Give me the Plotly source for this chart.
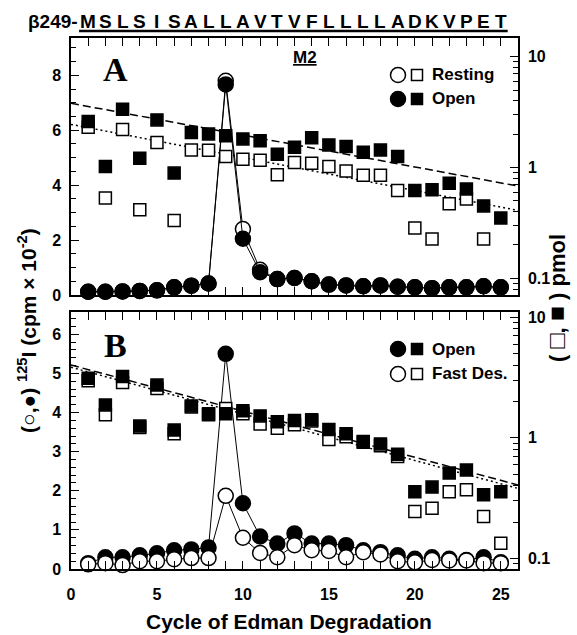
import plotly.graph_objects as go

# ---------------- data ----------------
cycles = list(range(1, 26))
sequence = list("MSLSISALLAVTVFLLLLADKVPET")
seq_prefix = "β249-"

# Panel A  (left axis: 125I cpm x 10^-2 ; right axis: pmol, log)
a_circ_resting = [0.12, 0.12, 0.13, 0.15, 0.17, 0.28, 0.34, 0.42, 7.8, 2.4, 0.92, 0.58, 0.62,
                  0.5, 0.38, 0.35, 0.32, 0.35, 0.3, 0.28, 0.25, 0.28, 0.28, 0.32, 0.28]
a_circ_open = [0.12, 0.12, 0.13, 0.15, 0.17, 0.28, 0.34, 0.42, 7.67, 2.05, 0.83, 0.58, 0.62,
               0.5, 0.38, 0.35, 0.32, 0.35, 0.3, 0.28, 0.25, 0.28, 0.28, 0.32, 0.28]
a_sq_resting = [2.31, 0.53, 2.2, 0.416, 1.68, 0.333, 1.44, 1.43, 1.26, 1.19, 1.16, 0.86, 1.11,
                1.09, 1.02, 0.93, 0.85, 0.85, 0.62, 0.284, 0.226, 0.47, 0.52, 0.226, None]
a_sq_open = [2.6, 1.02, 3.36, 1.21, 2.69, 0.89, 2.07, 2.01, 1.93, 1.81, 1.74, 1.32, 1.52,
             1.86, 1.6, 1.55, 1.37, 1.44, 1.26, 0.62, 0.63, 0.72, 0.64, 0.45, 0.35]
fit_x = [0, 26]
a_fit_open = [3.8, 0.68]
a_fit_resting = [2.45, 0.41]

# Panel B
b_circ_open = [0.15, 0.3, 0.3, 0.35, 0.4, 0.48, 0.5, 0.55, 5.5, 1.68, 0.83, 0.65, 0.91,
               0.65, 0.65, 0.61, 0.48, 0.43, 0.35, 0.26, 0.3, 0.26, 0.23, 0.3, 0.17]
b_circ_fastdes = [0.12, 0.15, 0.1, 0.2, 0.2, 0.25, 0.28, 0.28, 1.87, 0.8, 0.41, 0.30, 0.61,
                  0.48, 0.46, 0.30, 0.43, 0.37, 0.2, 0.17, 0.23, 0.22, 0.22, 0.15, 0.15]
b_sq_open = [3.12, 1.87, 3.22, 1.25, 2.74, 1.16, 1.84, 1.58, 1.58, 1.68, 1.52, 1.36, 1.39,
             1.41, 1.17, 1.08, 0.93, 0.89, 0.73, 0.357, 0.39, 0.51, 0.54, 0.336, 0.357]
b_sq_fastdes = [2.97, 1.55, 2.87, 1.22, 2.57, 1.08, 1.8, 1.55, 1.75, 1.58, 1.30, 1.2, 1.28,
                1.38, 0.97, 1.02, 0.92, 0.86, 0.70, 0.244, 0.26, 0.357, 0.37, 0.222, 0.133]
b_fit_open = [4.02, 0.406]
b_fit_fastdes = [3.85, 0.38]

x_ticks = [0, 5, 10, 15, 20, 25]
log_ticks = [0.1, 1, 10]
log_tick_text = ["0.1", "1", "10"]

# ---------------- styling ----------------
FONT = "Liberation Sans, Arial, sans-serif"
SERIF = "Liberation Serif, Times New Roman, serif"
W, H = 577, 635
ML, MR, MT, MB = 71, 59, 38, 66
PW, PH = W - ML - MR, H - MT - MB
CS, SS = 15, 12  # circle and square sizes


def py(pix):
    return (H - MB - pix) / PH


def px(pix):
    return (pix - ML) / PW


fig = go.Figure()


def circ(x, y, filled, xa, ya):
    fig.add_trace(go.Scatter(
        x=x, y=y, xaxis=xa, yaxis=ya, mode="lines+markers",
        line=dict(color="black", width=1),
        marker=dict(symbol="circle", size=CS,
                    color="black" if filled else "white",
                    line=dict(color="black", width=1.5)),
        showlegend=False, cliponaxis=False, hoverinfo="skip"))


def sq(x, y, filled, xa, ya):
    fig.add_trace(go.Scatter(
        x=x, y=y, xaxis=xa, yaxis=ya, mode="markers",
        marker=dict(symbol="square", size=SS,
                    color="black" if filled else "white",
                    line=dict(color="black", width=1.5)),
        showlegend=False, cliponaxis=False, hoverinfo="skip"))


def fit(y, dash, xa, ya):
    fig.add_trace(go.Scatter(
        x=fit_x, y=y, xaxis=xa, yaxis=ya, mode="lines",
        line=dict(color="black", width=1.5, dash=dash),
        showlegend=False, hoverinfo="skip"))


# Panel A
circ(cycles, a_circ_resting, False, "x", "y")
circ(cycles, a_circ_open, True, "x", "y")
fit(a_fit_open, "8px,4px", "x", "y2")
fit(a_fit_resting, "2px,3px", "x", "y2")
sq(cycles, a_sq_resting, False, "x", "y2")
sq(cycles, a_sq_open, True, "x", "y2")

# Panel B
circ(cycles, b_circ_open, True, "x2", "y3")
circ(cycles, b_circ_fastdes, False, "x2", "y3")
fit(b_fit_open, "8px,4px", "x2", "y4")
fit(b_fit_fastdes, "2px,3px", "x2", "y4")
sq(cycles, b_sq_fastdes, False, "x2", "y4")
sq(cycles, b_sq_open, True, "x2", "y4")

tickfont = dict(family=FONT, size=16, color="black", weight="bold")
minor_log = [0.08, 0.09, 0.2, 0.3, 0.4, 0.5, 0.6, 0.7, 0.8, 0.9, 2, 3, 4, 5, 6, 7, 8, 9]

dom_a = [py(295), 1]
dom_b = [0, py(312)]

xcommon = dict(range=[0, 26], ticks="inside", ticklen=8, tickwidth=1.2, tickcolor="black",
               tickmode="array", tickvals=x_ticks, showline=True, linecolor="black",
               linewidth=1.5, mirror="allticks", showgrid=False, zeroline=False,
               minor=dict(dtick=1, tick0=0, ticks="inside", ticklen=5, tickwidth=1,
                          tickcolor="black", showgrid=False),
               tickfont=tickfont, domain=[0, 1], ticklabelstandoff=10)

ycommon = dict(ticks="inside", ticklen=8, tickwidth=1.2, tickcolor="black", showline=True,
               linecolor="black", linewidth=1.5, showgrid=False, zeroline=False,
               tickfont=tickfont, ticklabelstandoff=5)

fig.update_layout(
    width=W, height=H, margin=dict(l=ML, r=MR, t=MT, b=MB),
    paper_bgcolor="white", plot_bgcolor="white", hovermode=False,
    xaxis=dict(**xcommon, anchor="y", showticklabels=False),
    xaxis2=dict(**xcommon, anchor="y3", showticklabels=True),
    yaxis=dict(**ycommon, domain=dom_a, anchor="x", range=[0, 9.36], tickmode="array",
               tickvals=[0, 2, 4, 6, 8],
               minor=dict(dtick=0.5, tick0=0, ticks="inside", ticklen=5, tickwidth=1,
                          tickcolor="black", showgrid=False)),
    yaxis2=dict(**ycommon, overlaying="y", side="right", anchor="x", type="log",
                range=[-1.151, 1.169], tickmode="array", tickvals=log_ticks,
                ticktext=log_tick_text,
                minor=dict(tickmode="array", tickvals=minor_log, ticks="inside", ticklen=5,
                           tickwidth=1, tickcolor="black", showgrid=False)),
    yaxis3=dict(**ycommon, domain=dom_b, anchor="x2", range=[0, 6.57], tickmode="array",
                tickvals=[0, 1, 2, 3, 4, 5, 6],
                minor=dict(dtick=0.2, tick0=0, ticks="inside", ticklen=5, tickwidth=1,
                           tickcolor="black", showgrid=False)),
    yaxis4=dict(**ycommon, overlaying="y3", side="right", anchor="x2", type="log",
                range=[-1.089, 1.044], tickmode="array", tickvals=log_ticks,
                ticktext=log_tick_text,
                minor=dict(tickmode="array", tickvals=minor_log, ticks="inside", ticklen=5,
                           tickwidth=1, tickcolor="black", showgrid=False)),
)

ann = []
shapes = []

# sequence header
seq_y = py(21)
seq_font = dict(family=FONT, size=19, color="black", weight="bold")
ann.append(dict(x=0.55, y=seq_y, xref="x", yref="paper", text=seq_prefix, showarrow=False,
                xanchor="right", yanchor="middle", font=seq_font))
for i, aa in enumerate(sequence):
    ann.append(dict(x=cycles[i], y=seq_y, xref="x", yref="paper", text=aa, showarrow=False,
                    xanchor="center", yanchor="middle", font=seq_font))
shapes.append(dict(type="line", xref="x", yref="paper", x0=0.47, x1=25.4,
                   y0=py(31), y1=py(31), line=dict(color="black", width=2.5)))

# M2 label
ann.append(dict(x=13.6, y=py(57), xref="x", yref="paper", text="<u>M2</u>", showarrow=False,
                xanchor="center", yanchor="middle",
                font=dict(family=FONT, size=17, color="black", weight="bold")))
# panel letters
for letter, ypix in (("A", 70), ("B", 345)):
    ann.append(dict(x=2.56, y=py(ypix), xref="x", yref="paper", text=letter, showarrow=False,
                    xanchor="center", yanchor="middle",
                    font=dict(family=SERIF, size=34, color="black", weight="bold")))


# legends
def leg_row(ypix, filled, label):
    yy = py(ypix)
    fill = "black" if filled else "white"
    shapes.append(dict(type="circle", xref="paper", yref="paper", xsizemode="pixel",
                       ysizemode="pixel", xanchor=px(398), yanchor=yy, x0=-7.5, x1=7.5,
                       y0=-7.5, y1=7.5, fillcolor=fill, line=dict(color="black", width=1.5)))
    shapes.append(dict(type="rect", xref="paper", yref="paper", xsizemode="pixel",
                       ysizemode="pixel", xanchor=px(417), yanchor=yy, x0=-5.5, x1=5.5,
                       y0=-5.5, y1=5.5, fillcolor=fill, line=dict(color="black", width=1.5)))
    ann.append(dict(x=px(430), y=yy, xref="paper", yref="paper", text=label, showarrow=False,
                    xanchor="left", yanchor="middle",
                    font=dict(family=FONT, size=17, color="black", weight="bold")))


leg_row(75, False, "Resting")
leg_row(99, True, "Open")
leg_row(349, True, "Open")
leg_row(374, False, "Fast Des.")

# axis titles
ann.append(dict(x=px(27), y=py(331), xref="paper", yref="paper",
                text="(○,●) <sup>125</sup>I (cpm × 10<sup>-2</sup>)", textangle=-90,
                showarrow=False, xanchor="center", yanchor="middle",
                font=dict(family=FONT, size=21, color="black", weight="bold")))
ann.append(dict(x=px(556), y=py(298), xref="paper", yref="paper",
                text="( <span style='font-size:25px'>□</span>, "
                     "<span style='font-size:25px'>■</span> ) pmol",
                textangle=-90, showarrow=False,
                xanchor="center", yanchor="middle",
                font=dict(family=FONT, size=22, color="black", weight="bold")))
ann.append(dict(x=px(289), y=py(621), xref="paper", yref="paper",
                text="Cycle of Edman Degradation", showarrow=False,
                xanchor="center", yanchor="middle",
                font=dict(family=FONT, size=21, color="black", weight="bold")))

fig.update_layout(annotations=ann, shapes=shapes)
fig.write_html("out.html", config={"displayModeBar": False},
               post_script="document.body.style.margin='0';")
